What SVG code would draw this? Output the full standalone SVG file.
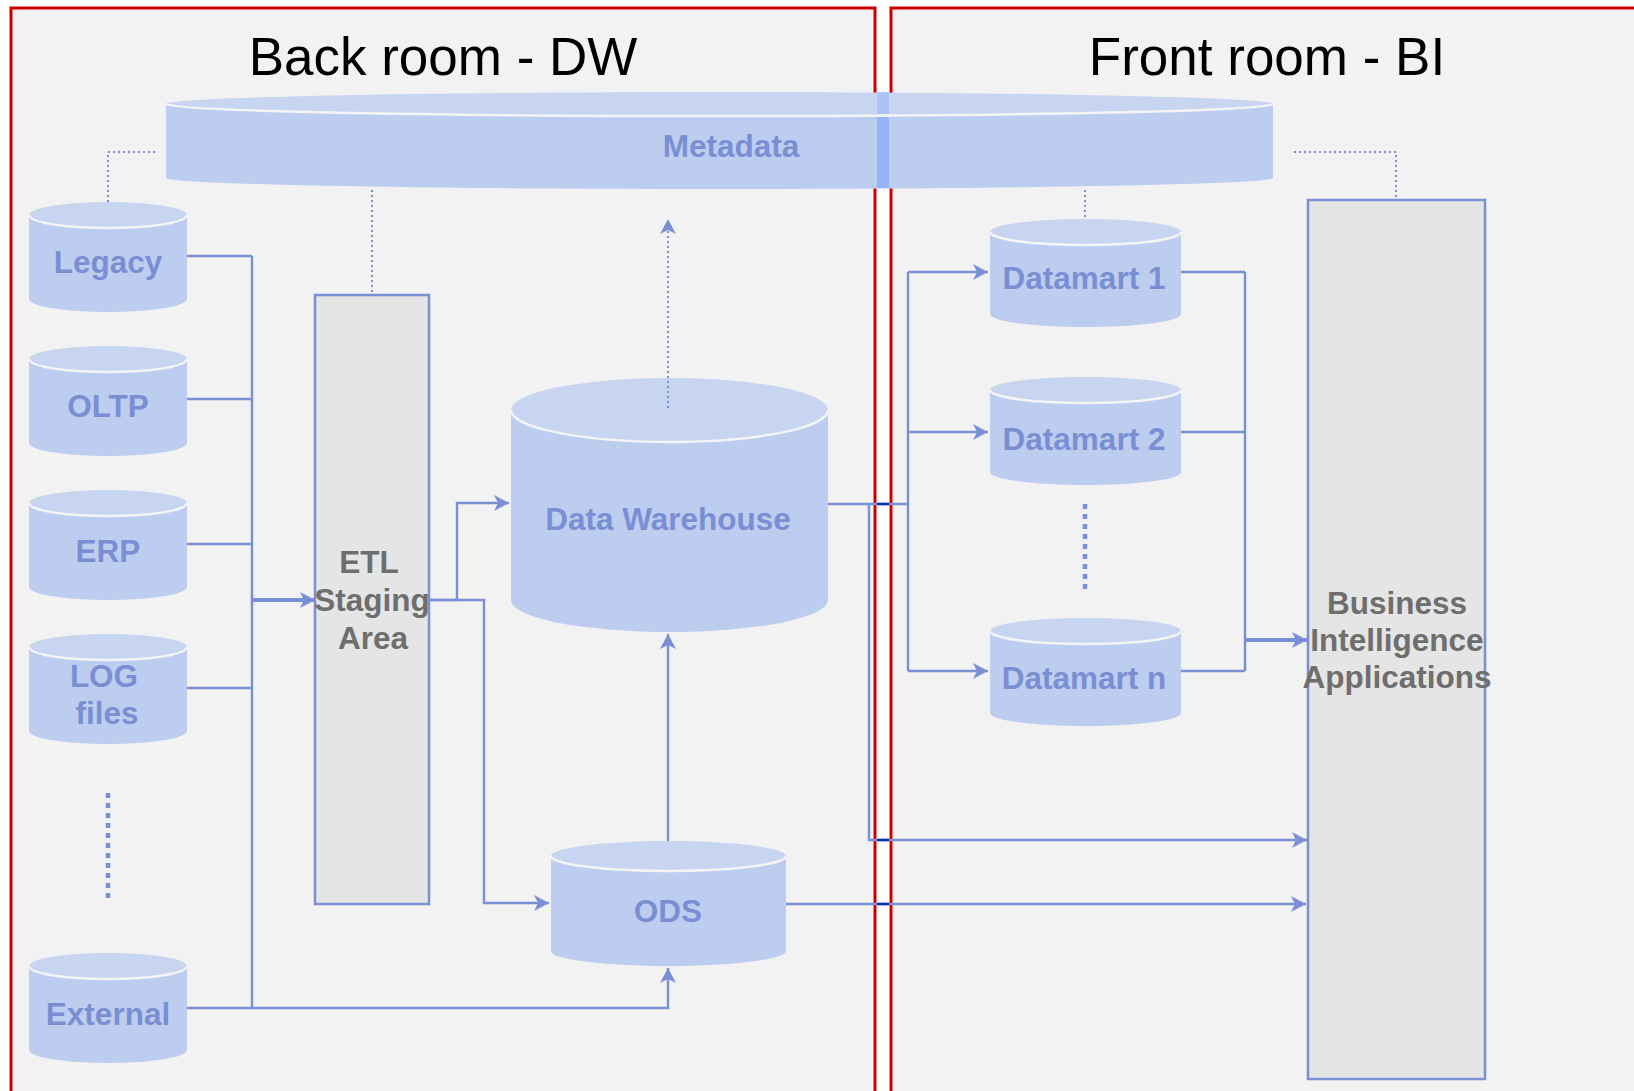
<svg xmlns="http://www.w3.org/2000/svg" width="1634" height="1091" viewBox="0 0 1634 1091">
<defs>
<style>
.panel{fill:#f2f2f2;stroke:#cc0000;stroke-width:3}
.title{font-family:"Liberation Sans",Arial,sans-serif;font-size:53px;fill:#000;text-anchor:middle}
.body{fill:#bccdf0}
.top{fill:#c7d5f1}
.rim{fill:none;stroke:#f4f4f4;stroke-width:2.5}
.lbl{font-family:"Liberation Sans",Arial,sans-serif;font-size:31.5px;font-weight:bold;fill:#7a8fd3;text-anchor:middle}
.glbl{font-family:"Liberation Sans",Arial,sans-serif;font-size:31.5px;font-weight:bold;fill:#6e6e6e;text-anchor:middle}
.box{fill:#e5e5e5;stroke:#7b90d4;stroke-width:2.5}
.ln{fill:none;stroke:#7b90d4;stroke-width:2.4}
.thick{fill:none;stroke:#7b90d4;stroke-width:3.8}
.dot{fill:none;stroke:#7b90d4;stroke-width:2;stroke-dasharray:2 3}
.bigdot{fill:none;stroke:#7b90d4;stroke-width:4.5;stroke-dasharray:5 5}
.gapln{fill:none;stroke:#0a32a8;stroke-width:2.6}
</style>
<marker id="ar" markerUnits="userSpaceOnUse" markerWidth="16" markerHeight="16" refX="15" refY="8" orient="auto">
<path d="M0,0 L15,8 L0,16 L4,8 Z" fill="#7b90d4"/>
</marker>
</defs>

<rect x="0" y="0" width="1634" height="1091" fill="#ffffff"/>
<g id="back-room">
<rect class="panel" x="11" y="8" width="864" height="1100"/>
<text class="title" x="443" y="75">Back room - DW</text>
</g>
<g id="front-room">
<rect class="panel" x="891" y="8" width="800" height="1100"/>
<text class="title" x="1267" y="75">Front room - BI</text>
</g>

<g id="metadata">
<rect class="body" x="166" y="104" width="1107" height="74"/>
<ellipse class="body" cx="719.5" cy="178" rx="553.5" ry="11"/>
<ellipse class="top" cx="719.5" cy="104" rx="553.5" ry="12"/>
<path class="rim" d="M166,104 A553.5,12 0 0 0 1273,104"/>
<rect x="877" y="92" width="12" height="22" fill="#aac4f6"/>
<rect x="877" y="117" width="12" height="71" fill="#95b4f6"/>
<text class="lbl" x="731" y="157">Metadata</text>
</g>

<g id="legacy">
<rect class="body" x="29" y="215" width="158" height="84"/>
<ellipse class="body" cx="108" cy="299" rx="79" ry="13"/>
<ellipse class="top" cx="108" cy="215" rx="79" ry="13"/>
<path class="rim" d="M29,215 A79,13 0 0 0 187,215"/>
<text class="lbl" x="108" y="273">Legacy</text>
</g>
<g id="oltp">
<rect class="body" x="29" y="359" width="158" height="84"/>
<ellipse class="body" cx="108" cy="443" rx="79" ry="13"/>
<ellipse class="top" cx="108" cy="359" rx="79" ry="13"/>
<path class="rim" d="M29,359 A79,13 0 0 0 187,359"/>
<text class="lbl" x="108" y="417">OLTP</text>
</g>
<g id="erp">
<rect class="body" x="29" y="503" width="158" height="84"/>
<ellipse class="body" cx="108" cy="587" rx="79" ry="13"/>
<ellipse class="top" cx="108" cy="503" rx="79" ry="13"/>
<path class="rim" d="M29,503 A79,13 0 0 0 187,503"/>
<text class="lbl" x="108" y="562">ERP</text>
</g>
<g id="log">
<rect class="body" x="29" y="647" width="158" height="84"/>
<ellipse class="body" cx="108" cy="731" rx="79" ry="13"/>
<ellipse class="top" cx="108" cy="647" rx="79" ry="13"/>
<path class="rim" d="M29,647 A79,13 0 0 0 187,647"/>
<text class="lbl" x="104" y="687">LOG</text>
<text class="lbl" x="107" y="724">files</text>
</g>
<g id="external">
<rect class="body" x="29" y="966" width="158" height="84"/>
<ellipse class="body" cx="108" cy="1050" rx="79" ry="13"/>
<ellipse class="top" cx="108" cy="966" rx="79" ry="13"/>
<path class="rim" d="M29,966 A79,13 0 0 0 187,966"/>
<text class="lbl" x="108" y="1025">External</text>
</g>

<g id="etl">
<rect class="box" x="315" y="295" width="114" height="609"/>
<text class="glbl" x="369" y="573">ETL</text>
<text class="glbl" x="372" y="611">Staging</text>
<text class="glbl" x="373" y="649">Area</text>
</g>

<g id="dw">
<rect class="body" x="511" y="410" width="317" height="190"/>
<ellipse class="body" cx="669.5" cy="600" rx="158.5" ry="32"/>
<ellipse class="top" cx="669.5" cy="410" rx="158.5" ry="32"/>
<path class="rim" d="M511,410 A158.5,32 0 0 0 828,410"/>
<text class="lbl" x="668" y="530">Data Warehouse</text>
</g>

<g id="ods">
<rect class="body" x="551" y="856" width="235" height="95"/>
<ellipse class="body" cx="668.5" cy="951" rx="117.5" ry="15"/>
<ellipse class="top" cx="668.5" cy="856" rx="117.5" ry="15"/>
<path class="rim" d="M551,856 A117.5,15 0 0 0 786,856"/>
<text class="lbl" x="668" y="922">ODS</text>
</g>

<g id="datamart1">
<rect class="body" x="990" y="232" width="191" height="82"/>
<ellipse class="body" cx="1085.5" cy="314" rx="95.5" ry="13"/>
<ellipse class="top" cx="1085.5" cy="232" rx="95.5" ry="13"/>
<path class="rim" d="M990,232 A95.5,13 0 0 0 1181,232"/>
<text class="lbl" x="1084" y="289">Datamart 1</text>
</g>
<g id="datamart2">
<rect class="body" x="990" y="390" width="191" height="82"/>
<ellipse class="body" cx="1085.5" cy="472" rx="95.5" ry="13"/>
<ellipse class="top" cx="1085.5" cy="390" rx="95.5" ry="13"/>
<path class="rim" d="M990,390 A95.5,13 0 0 0 1181,390"/>
<text class="lbl" x="1084" y="450">Datamart 2</text>
</g>
<g id="datamartn">
<rect class="body" x="990" y="631" width="191" height="82"/>
<ellipse class="body" cx="1085.5" cy="713" rx="95.5" ry="13"/>
<ellipse class="top" cx="1085.5" cy="631" rx="95.5" ry="13"/>
<path class="rim" d="M990,631 A95.5,13 0 0 0 1181,631"/>
<text class="lbl" x="1084" y="689">Datamart n</text>
</g>

<g id="bi">
<rect class="box" x="1308" y="200" width="177" height="879"/>
<text class="glbl" x="1397" y="614">Business</text>
<text class="glbl" x="1397" y="651">Intelligence</text>
<text class="glbl" x="1397" y="688">Applications</text>
</g>

<g id="connectors">
<path class="ln" d="M187,256 H252 M187,399 H252 M187,544 H252 M187,688 H252 M252,256 V1008"/>
<path class="ln" d="M187,1008 H668 V968" marker-end="url(#ar)"/>
<path class="thick" d="M252,600 H315" marker-end="url(#ar)"/>
<path class="ln" d="M429,600 H457 V503 H509" marker-end="url(#ar)"/>
<path class="ln" d="M429,600 H484 V903 H549" marker-end="url(#ar)"/>
<path class="dot" d="M668,408 V219" marker-end="url(#ar)"/>
<path class="ln" d="M668,841 V634" marker-end="url(#ar)"/>
<path class="ln" d="M786,904 H1306" marker-end="url(#ar)"/>
<path class="ln" d="M828,504 H908"/>
<path class="ln" d="M869,504 V840 H1307" marker-end="url(#ar)"/>
<path class="ln" d="M908,272 V671"/>
<path class="ln" d="M908,272 H988" marker-end="url(#ar)"/>
<path class="ln" d="M908,432 H988" marker-end="url(#ar)"/>
<path class="ln" d="M908,671 H988" marker-end="url(#ar)"/>
<path class="ln" d="M1181,272 H1245 M1181,432 H1245 M1181,671 H1245 M1245,272 V671"/>
<path class="thick" d="M1245,640 H1307" marker-end="url(#ar)"/>
<path class="dot" d="M155,152 H108 V202"/>
<path class="dot" d="M372,190 V295"/>
<path class="dot" d="M1085,190 V218"/>
<path class="dot" d="M1294,152 H1396 V200"/>
<path class="bigdot" d="M108,793 V903"/>
<path class="bigdot" d="M1085,504 V594"/>
<path class="gapln" d="M877,504 H889 M877,840 H889 M877,904 H889"/>
</g>
</svg>
